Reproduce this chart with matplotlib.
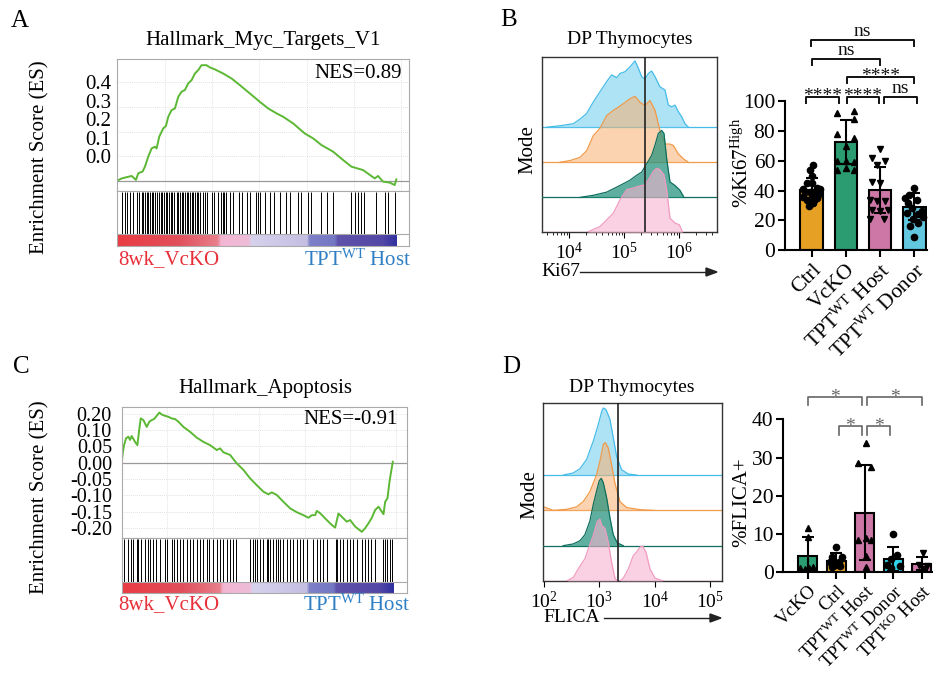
import numpy as np
import matplotlib
matplotlib.use("Agg")
import matplotlib.pyplot as plt
from matplotlib.colors import LinearSegmentedColormap
from matplotlib.ticker import NullFormatter

plt.rcParams['font.family'] = ['Liberation Serif', 'DejaVu Serif']
plt.rcParams['mathtext.fontset'] = 'custom'
plt.rcParams['mathtext.rm'] = 'Liberation Serif'
plt.rcParams['mathtext.it'] = 'Liberation Serif:italic'
plt.rcParams['mathtext.bf'] = 'Liberation Serif:bold'

# ---------------- data ----------------
# A: Hallmark_Myc_Targets_V1 running enrichment score
myc_rank = [0, 457, 985, 1512, 1969, 2215, 2672, 2918, 3270, 3621, 3973, 4149, 4430, 4852,
            5133, 5380, 5731, 6083, 6434, 6786, 7137, 7489, 7841, 8192, 8544, 8895, 9423,
            9774, 10302, 11181, 12060, 12939, 13994, 15048, 15927, 16806, 17510, 18564,
            19795, 20674, 21553, 22784, 23839, 24717, 25949, 27179, 27531, 28058, 28761,
            29288, 29464]
myc_es = [0.0, 0.009, 0.014, 0.019, 0.003, 0.030, 0.037, 0.057, 0.098, 0.131, 0.138, 0.131,
          0.179, 0.213, 0.222, 0.260, 0.287, 0.294, 0.341, 0.362, 0.369, 0.396, 0.409, 0.436,
          0.450, 0.470, 0.470, 0.461, 0.453, 0.436, 0.416, 0.389, 0.355, 0.321, 0.294, 0.274,
          0.260, 0.233, 0.192, 0.172, 0.145, 0.118, 0.084, 0.057, 0.043, 0.009, 0.019, -0.004,
          -0.008, -0.018, 0.005]
myc_hits = [457, 809, 1055, 1336, 1617, 2110, 2321, 2567, 2742, 2918, 3094, 3270, 3446, 3621,
            3797, 3973, 4219, 4395, 4571, 4747, 4922, 5098, 5274, 5450, 5626, 5801, 5977,
            6258, 6434, 6610, 6786, 6962, 7137, 7313, 7489, 7665, 7841, 8016, 8192, 8368,
            8544, 8720, 9001, 9247, 9423, 9950, 10196, 10654, 10900, 11111, 11287, 11462,
            11884, 12165, 12833, 13115, 13642, 13994, 14627, 14873, 15119, 15576, 16103,
            16525, 17158, 17791, 18213, 19092, 19444, 20147, 20428, 21553, 22151, 22784,
            24717, 25069, 25421, 25772, 26053, 27284, 28233, 28585, 29288]
myc_ytick_pos = [0.4, 0.325, 0.25, 0.175, 0.1]
myc_ytick_lab = ["0.4", "0.3", "0.2", "0.1", "0.0"]
myc_grid_y = [0.1, 0.2, 0.3, 0.4]

# C: Hallmark_Apoptosis running enrichment score
apo_rank = [0, 109, 255, 474, 729, 912, 1094, 1459, 1714, 1933, 2079, 2371, 2735, 3027, 3282,
            3538, 3829, 4121, 4376, 4741, 5106, 5471, 5835, 6200, 6747, 7476, 8206, 8935,
            9665, 10394, 10759, 11123, 11853, 12582, 13312, 14041, 14770, 15500, 16047,
            16412, 16959, 17688, 18417, 19147, 19876, 20423, 20788, 21153, 21335, 21700,
            22429, 22976, 23341, 23706, 24070, 24617, 24982, 25529, 26258, 26623, 26988,
            27353, 27717, 28082, 28629, 28811, 29067, 29285, 29431, 29650]
apo_es = [-0.002, 0.029, 0.054, 0.075, 0.080, 0.070, 0.082, 0.064, 0.054, 0.105, 0.136, 0.131,
          0.110, 0.126, 0.131, 0.134, 0.144, 0.154, 0.148, 0.144, 0.141, 0.136, 0.134, 0.126,
          0.110, 0.095, 0.077, 0.064, 0.054, 0.039, 0.044, 0.032, 0.024, -0.002, -0.022,
          -0.048, -0.069, -0.089, -0.097, -0.091, -0.099, -0.120, -0.140, -0.152, -0.161,
          -0.169, -0.161, -0.161, -0.148, -0.155, -0.176, -0.191, -0.199, -0.156, -0.166,
          -0.181, -0.176, -0.196, -0.212, -0.201, -0.186, -0.169, -0.145, -0.135, -0.158,
          -0.120, -0.109, -0.058, -0.033, 0.003]
apo_hits = [255, 729, 985, 1276, 1714, 1824, 2079, 2553, 2918, 3100, 3465, 3756, 4194, 4741,
            4996, 5471, 5726, 6018, 6382, 6747, 7112, 7476, 7841, 8206, 8570, 8935, 9300,
            9592, 10029, 10394, 10759, 11123, 11488, 11853, 12217, 12509, 14041, 14333,
            14588, 14843, 15135, 15500, 15864, 16047, 16229, 16594, 16886, 17141, 17323,
            17688, 18053, 18417, 18782, 19147, 19512, 19876, 20241, 20970, 21335, 21700,
            22064, 22429, 23450, 23596, 23888, 24252, 24617, 24982, 25347, 25711, 26258,
            26623, 26988, 27243, 27717, 28629, 28811, 29067, 29358, 29540]
apo_ytick_pos = [0.15, 0.10, 0.05, 0.0, -0.05, -0.10, -0.15, -0.20]
apo_ytick_lab = ["0.20", "0.10", "0.05", "0.00", "-0.05", "-0.10", "-0.15", "-0.20"]
apo_grid_y = [0.15, 0.10, 0.05, -0.05, -0.10, -0.15, -0.20]

rank_stops = [0.0, 0.22, 0.36, 0.37, 0.47, 0.48, 0.68, 0.69, 0.78, 0.79, 0.95, 1.0]
rank_colors = ['#ea3c44', '#e0505c', '#e8808c', '#f2b6d2', '#eebcd8', '#d6d2ec', '#c4bfe2',
               '#7e80c8', '#7478c2', '#5e52aa', '#5448a6', '#3232a0']

# B: Ki67 histograms (log10 intensity, height in stack units)
ki_blue_x = [3.588, 3.830, 4.073, 4.194, 4.315, 4.436, 4.558, 4.679, 4.770, 4.861, 4.921,
             5.012, 5.103, 5.194, 5.255, 5.315, 5.376, 5.436, 5.497, 5.558, 5.648, 5.739,
             5.800, 5.861, 5.921, 5.982, 6.042, 6.103, 6.164]
ki_blue_h = [0, 0.04, 0.10, 0.23, 0.39, 0.72, 1.01, 1.30, 1.49, 1.41, 1.53, 1.58, 1.72, 1.89,
             1.68, 1.44, 1.37, 1.53, 1.60, 1.44, 1.15, 1.06, 0.63, 0.58, 0.63, 0.44, 0.30,
             0.10, 0]
ki_orange_x = [3.830, 4.012, 4.194, 4.315, 4.436, 4.558, 4.679, 4.800, 4.891, 4.982, 5.103,
               5.194, 5.285, 5.376, 5.467, 5.558, 5.648, 5.739, 5.830, 5.891, 5.982, 6.073,
               6.164]
ki_orange_h = [0, 0.05, 0.14, 0.33, 0.76, 0.97, 1.33, 1.48, 1.57, 1.67, 1.81, 1.88, 1.71,
               1.62, 1.76, 1.48, 0.90, 0.52, 0.52, 0.48, 0.24, 0.10, 0]
ki_teal_x = [4.194, 4.436, 4.679, 4.921, 5.103, 5.224, 5.315, 5.406, 5.497, 5.558, 5.618,
             5.679, 5.721, 5.770, 5.830, 5.921, 6.012, 6.085]
ki_teal_h = [0, 0.06, 0.15, 0.34, 0.49, 0.63, 0.72, 0.96, 1.20, 1.49, 1.82, 1.91, 1.82,
             1.10, 0.44, 0.34, 0.20, 0]
ki_pink_x = [4.315, 4.558, 4.800, 4.921, 5.042, 5.164, 5.285, 5.376, 5.436, 5.527, 5.588,
             5.648, 5.721, 5.770, 5.830, 5.921, 6.000, 6.061]
ki_pink_h = [0, 0.17, 0.55, 0.93, 1.22, 1.27, 1.33, 1.36, 1.50, 1.74, 1.83, 1.79, 1.64,
             1.22, 0.41, 0.27, 0.22, 0]
ki_gate = 5.38

# D: FLICA histograms
fl_blue_x = [2.349, 2.530, 2.651, 2.771, 2.892, 2.982, 3.042, 3.072, 3.120, 3.193, 3.253,
             3.313, 3.404, 3.524, 3.675]
fl_blue_h = [0, 0.06, 0.18, 0.44, 0.96, 1.43, 1.79, 1.90, 1.86, 1.58, 1.06, 0.53, 0.15,
             0.03, 0]
fl_orange_x = [2.0, 2.169, 2.410, 2.590, 2.711, 2.831, 2.952, 3.024, 3.072, 3.108, 3.163,
               3.223, 3.283, 3.373, 3.494, 3.735, 3.976]
fl_orange_h = [0.1, 0, 0.03, 0.10, 0.25, 0.53, 1.01, 1.48, 1.87, 1.92, 1.77, 1.29, 0.77,
               0.25, 0.08, 0.02, 0]
fl_teal_x = [2.349, 2.530, 2.651, 2.741, 2.831, 2.892, 2.952, 3.000, 3.036, 3.072, 3.133,
             3.193, 3.253, 3.325, 3.434]
fl_teal_h = [0, 0.05, 0.14, 0.31, 0.70, 1.17, 1.55, 1.84, 1.91, 1.79, 1.36, 0.79, 0.31,
             0.08, 0]
fl_pink_x = [2.410, 2.530, 2.620, 2.681, 2.741, 2.801, 2.892, 2.964, 3.012, 3.042, 3.102,
             3.163, 3.223, 3.283, 3.325, 3.373, 3.434, 3.524, 3.614, 3.675, 3.735, 3.783,
             3.843, 3.916, 4.006, 4.157]
fl_pink_h = [0, 0.10, 0.34, 0.49, 0.63, 0.91, 1.29, 1.69, 1.75, 1.58, 1.49, 1.10, 0.53,
             0.08, 0, 0, 0.08, 0.34, 0.72, 0.82, 0.96, 0.99, 0.82, 0.34, 0.08, 0]
fl_gate = 3.34

hist_fill = ['#6ccbee', '#f8b070', '#20917c', '#f6b3cf']
hist_edge = ['#45bce8', '#f29a48', '#0f6e5e', '#f19bc0']
hist_alpha = [0.55, 0.55, 0.72, 0.6]

# B: %Ki67 high bar chart
ki_groups = ["Ctrl", "VcKO", r"TPT$^{\mathrm{WT}}$ Host", r"TPT$^{\mathrm{WT}}$ Donor"]
ki_mean = [40.3, 72.6, 40.6, 29.2]
ki_sd = [7.9, 14.8, 15.3, 8.9]
ki_ctrl = [57, 54, 50, 45, 45, 41, 42, 39, 39, 38, 38, 36, 36, 34, 35, 32, 30, 41]
ki_ctrl_dx = [0.05, -0.05, 0.0, -0.15, 0.0, -0.24, 0.15, -0.2, -0.05, 0.1, 0.2, -0.24, 0.0,
              -0.15, 0.15, 0.05, -0.07, 0.24]
ki_vcko = [92, 93, 88, 78, 75, 70, 60, 60, 59, 54, 55, 54]
ki_vcko_dx = [-0.27, 0.24, 0.24, -0.25, 0.24, 0.0, -0.25, 0.0, 0.25, -0.25, 0.0, 0.25]
ki_host = [68, 62, 60, 57, 46, 45, 34, 33, 33, 27, 26, 27, 21, 21]
ki_host_dx = [0.0, -0.24, 0.15, -0.1, -0.24, 0.0, -0.29, -0.1, 0.15, -0.24, 0.0, 0.24, -0.29,
              0.1]
ki_donor = [42, 37, 35, 34, 32, 28, 26, 25, 24, 21, 22, 16, 18, 9]
ki_donor_dx = [0.0, -0.15, -0.27, 0.07, -0.18, -0.08, 0.21, -0.22, 0.12, -0.03, 0.26, -0.13,
               0.12, 0.0]
ki_markers = ['o', '^', 'v', 'o']
ki_colors = ['#e6a024', '#2b9c71', '#cc77a6', '#62c8df']
ki_sig_x1 = [-0.02, 0.0, 1.02, -0.17, 1.02, 2.12]
ki_sig_x2 = [3.0, 2.0, 3.0, 0.81, 1.97, 3.07]
ki_sig_y = [140.7, 128.0, 116.0, 102.7, 102.7, 102.7]
ki_sig_txt = ['ns', 'ns', '****', '****', '****', 'ns']

# D: %FLICA+ bar chart
fl_groups = ["VcKO", "Ctrl", r"TPT$^{\mathrm{WT}}$ Host", r"TPT$^{\mathrm{WT}}$ Donor",
             r"TPT$^{\mathrm{KO}}$ Host"]
fl_mean = [4.35, 3.0, 15.6, 3.5, 2.2]
fl_sd = [4.75, 2.0, 12.5, 3.2, 1.7]
fl_vcko = [11.5, 9.2, 1.5, 1.2, 1.0, 0.8]
fl_vcko_dx = [0.0, 0.0, 0.2, -0.26, 0.03, -0.08]
fl_ctrl = [6.5, 4.1, 3.9, 2.8, 2.8, 1.9, 1.5, 1.6]
fl_ctrl_dx = [0.0, -0.15, 0.2, -0.21, 0.08, -0.04, -0.15, 0.14]
fl_host = [33.7, 28.7, 27.6, 8.9, 8.4, 8.4, 4.3, 1.5]
fl_host_dx = [0.04, -0.23, 0.23, 0.04, -0.23, 0.23, 0.04, 0.04]
fl_donor = [10.0, 4.5, 3.4, 1.9, 1.7, 1.0]
fl_donor_dx = [0.0, 0.12, -0.06, -0.23, 0.23, -0.06]
fl_ko = [5.0, 1.9, 1.7, 0.8]
fl_ko_dx = [0.04, -0.1, 0.19, 0.05]
fl_markers = ['^', 'o', '^', 'o', 'v']
fl_colors = ['#2b9c71', '#e6a024', '#cc77a6', '#2fd3ea', '#cc77a6']
fl_sig_x1 = [0.0, 2.09, 1.1, 2.09]
fl_sig_x2 = [1.89, 4.02, 1.89, 2.89]
fl_sig_y = [45.9, 45.9, 38.2, 38.2]
fl_sig_txt = ['*', '*', '*', '*']

# ---------------- figure ----------------
W, H = 933, 677
fig = plt.figure(figsize=(W / 100, H / 100), dpi=100)


def box(l, t, r, b):
    # pixel box -> figure fraction rect
    return [l / W, 1 - b / H, (r - l) / W, (b - t) / H]


def ftext(x, y, s, **kw):
    fig.text(x / W, 1 - y / H, s, **kw)


def arrow(x0, x1, y):
    fig.add_artist(plt.Line2D([x0 / W, (x1 - 9) / W], [1 - y / H, 1 - y / H],
                              color='#222222', lw=1))
    fig.patches.append(plt.Polygon([[(x1 - 11) / W, 1 - (y - 4) / H], [x1 / W, 1 - y / H],
                                    [(x1 - 11) / W, 1 - (y + 4) / H]], closed=True,
                                   color='#222222', transform=fig.transFigure, figure=fig))


def gsea(l, t, r, b_es, b_all, cb_h, xmax, n_genes, rank, es, hits, ylim,
         tpos, tlab, grid_y, pad, tfs):
    ax = fig.add_axes(box(l, t, r, b_es))
    for k in range(1, 7):
        ax.axvline(k * 5000, color='#d8d8d8', lw=0.6, ls=(0, (1, 1.5)))
    for g in grid_y:
        ax.axhline(g, color='#d8d8d8', lw=0.6, ls=(0, (1, 1.5)))
    ax.axhline(0, color='#999999', lw=0.9)
    ax.plot(rank, es, color='#5cb834', lw=1.4)
    ax.set_xlim(0, xmax)
    ax.set_ylim(*ylim)
    ax.set_xticks([])
    ax.set_yticks(tpos)
    ax.set_yticklabels(tlab)
    ax.tick_params(axis='y', length=0, labelsize=tfs, pad=pad)
    for s in ax.spines.values():
        s.set_color('#aaaaaa')
        s.set_linewidth(0.8)

    hx = fig.add_axes(box(l, b_es, r, b_all))
    frac = cb_h / (b_all - b_es)
    cmap = LinearSegmentedColormap.from_list('rk', list(zip(rank_stops, rank_colors)))
    hx.imshow(np.linspace(0, 1, 400)[None, :], extent=(0, n_genes, 0, frac),
              aspect='auto', cmap=cmap)
    hx.vlines(hits, frac, 0.985, color='black', lw=0.7)
    hx.axhline(frac, color='#aaaaaa', lw=0.8)
    hx.set_xlim(0, xmax)
    hx.set_ylim(0, 1)
    hx.set_xticks([])
    hx.set_yticks([])
    for s in hx.spines.values():
        s.set_color('#aaaaaa')
        s.set_linewidth(0.8)


def hist(l, t, r, b, xlim, ylim_top, curves, gate, ticks, ticklabs):
    ax = fig.add_axes(box(l, t, r, b))
    ax.set_xscale('log')
    for i, (lx, h) in enumerate(curves):
        base = 3 - i
        xs = 10 ** np.array(lx)
        ys = base + np.array(h)
        ax.axhline(base, color=hist_edge[i], lw=0.9, zorder=1 + i)
        ax.fill_between(xs, base, ys, color=hist_fill[i], alpha=hist_alpha[i], lw=0,
                        zorder=1 + i)
        ax.plot(xs, ys, color=hist_edge[i], lw=0.9, zorder=1 + i)
    ax.axvline(10 ** gate, color='#222222', lw=1.2, zorder=10)
    ax.set_xlim(10 ** xlim[0], 10 ** xlim[1])
    ax.set_ylim(0, ylim_top)
    ax.set_yticks([])
    ax.set_xticks(ticks)
    ax.set_xticklabels(ticklabs)
    ax.xaxis.set_minor_formatter(NullFormatter())
    ax.tick_params(axis='x', which='major', length=4, width=0.8, labelsize=14, pad=3)
    ax.tick_params(axis='x', which='minor', length=2, width=0.6)
    for s in ax.spines.values():
        s.set_color('#333333')
        s.set_linewidth(1.0)
    return ax


def bars(l, t, r, b, xlim, ylim, yticks, means, sds, pts, dxs, markers, colors, labels,
         ms, xfs):
    ax = fig.add_axes(box(l, t, r, b))
    x = np.arange(len(means))
    ax.bar(x, means, width=0.66, color=colors, edgecolor='black', lw=1.5, zorder=1)
    for i in range(len(means)):
        ax.plot(i + np.array(dxs[i]), pts[i], ls='none', marker=markers[i],
                color='black', ms=ms, zorder=3)
    ax.errorbar(x, means, yerr=sds, fmt='none', ecolor='black', elinewidth=1.5,
                capsize=4, capthick=1.5, zorder=4)
    ax.set_xlim(*xlim)
    ax.set_ylim(*ylim)
    ax.set_yticks(yticks)
    ax.set_xticks(x)
    ax.set_xticklabels(labels, rotation=45, ha='right', rotation_mode='anchor')
    ax.tick_params(axis='both', length=5, width=1.5, labelsize=15.5)
    ax.tick_params(axis='y', pad=2)
    ax.tick_params(axis='x', pad=2, labelsize=xfs)
    ax.spines['top'].set_visible(False)
    ax.spines['right'].set_visible(False)
    ax.spines['left'].set_linewidth(1.5)
    ax.spines['bottom'].set_linewidth(1.5)
    return ax


def brackets(ax, x1s, x2s, ys, txts, leg, gap_ns, gap_star, color, fs, lw):
    for x1, x2, y, s in zip(x1s, x2s, ys, txts):
        ax.plot([x1, x1, x2, x2], [y - leg, y, y, y - leg], color=color, lw=lw,
                clip_on=False)
        gap = gap_star if s.startswith('*') else gap_ns
        ax.text((x1 + x2) / 2, y + gap, s, ha='center', va='bottom', fontsize=fs,
                color=color, clip_on=False)


# ---- Panel A ----
gsea(117.3, 59.3, 409, 190.7, 246, 12, 30800, 29470, myc_rank, myc_es, myc_hits,
     (-0.041, 0.494), myc_ytick_pos, myc_ytick_lab, myc_grid_y, 4, 15)
ftext(263, 41, "Hallmark_Myc_Targets_V1", ha='center', va='center', fontsize=15)
ftext(402, 73, "NES=0.89", ha='right', va='center', fontsize=15)
ftext(40, 157, "Enrichment Score (ES)", ha='center', va='center', rotation=90, fontsize=15)
ftext(118, 260, "8wk_VcKO", ha='left', va='center', fontsize=15, color='#e8303a')
ftext(411, 260, r"TPT$^{\mathrm{WT}}$ Host", ha='right', va='center', fontsize=15,
      color='#2f7fc4')
ftext(20, 21, "A", ha='center', va='center', fontsize=18)

# ---- Panel C ----
gsea(121.7, 406.7, 407, 538.3, 592.7, 11, 31200, 29650, apo_rank, apo_es, apo_hits,
     (-0.232, 0.172), apo_ytick_pos, apo_ytick_lab, apo_grid_y, 7, 14.5)
ftext(265, 389, "Hallmark_Apoptosis", ha='center', va='center', fontsize=15)
ftext(398, 420, "NES=-0.91", ha='right', va='center', fontsize=15)
ftext(40, 497, "Enrichment Score (ES)", ha='center', va='center', rotation=90, fontsize=15)
ftext(118, 605, "8wk_VcKO", ha='left', va='center', fontsize=15, color='#e8303a')
ftext(410, 605, r"TPT$^{\mathrm{WT}}$ Host", ha='right', va='center', fontsize=15,
      color='#2f7fc4')
ftext(21, 367, "C", ha='center', va='center', fontsize=18)

# ---- Panel B ----
hist(541.7, 57, 717.3, 232.5, (3.498, 6.69), 5.0,
     [(ki_blue_x, ki_blue_h), (ki_orange_x, ki_orange_h), (ki_teal_x, ki_teal_h),
      (ki_pink_x, ki_pink_h)], ki_gate, [1e4, 1e5, 1e6],
     [r'$10^{4}$', r'$10^{5}$', r'$10^{6}$'])
ftext(630, 40, "DP Thymocytes", ha='center', va='center', fontsize=14)
ftext(528, 150, "Mode", ha='center', va='center', rotation=90, fontsize=15)
ftext(541.7, 272, "Ki67", ha='left', va='center', fontsize=14)
arrow(580, 717, 272)
ftext(509, 20, "B", ha='center', va='center', fontsize=18)

axb = bars(785, 101, 926.7, 250.3, (-0.78, 3.36), (0, 100), [0, 20, 40, 60, 80, 100],
           ki_mean, ki_sd, [ki_ctrl, ki_vcko, ki_host, ki_donor],
           [ki_ctrl_dx, ki_vcko_dx, ki_host_dx, ki_donor_dx], ki_markers, ki_colors,
           ki_groups, 4.5, 15.5)
brackets(axb, ki_sig_x1, ki_sig_x2, ki_sig_y, ki_sig_txt, 4, 0.3, -5.5, '#111111', 14, 1.4)
ftext(742, 163, r"%Ki67$^{\mathrm{High}}$", ha='center', va='center', rotation=90,
      fontsize=15)

# ---- Panel D ----
hist(543.3, 402.7, 721.7, 581, (1.99, 5.21), 5.05,
     [(fl_blue_x, fl_blue_h), (fl_orange_x, fl_orange_h), (fl_teal_x, fl_teal_h),
      (fl_pink_x, fl_pink_h)], fl_gate, [1e2, 1e3, 1e4, 1e5],
     [r'$10^{2}$', r'$10^{3}$', r'$10^{4}$', r'$10^{5}$'])
ftext(632, 388, "DP Thymocytes", ha='center', va='center', fontsize=14)
ftext(530, 495, "Mode", ha='center', va='center', rotation=90, fontsize=15)
ftext(543.3, 618, "FLICA", ha='left', va='center', fontsize=14)
arrow(604, 721, 618)
ftext(511, 367, "D", ha='center', va='center', fontsize=18)

axd = bars(783.3, 419.3, 933, 572.3, (-0.86, 4.40), (0, 40), [0, 10, 20, 30, 40],
           fl_mean, fl_sd, [fl_vcko, fl_ctrl, fl_host, fl_donor, fl_ko],
           [fl_vcko_dx, fl_ctrl_dx, fl_host_dx, fl_donor_dx, fl_ko_dx], fl_markers,
           fl_colors, fl_groups, 4.5, 13.5)
brackets(axd, fl_sig_x1, fl_sig_x2, fl_sig_y, fl_sig_txt, 2.2, 0, -2.3, '#666666', 14, 1.2)
ftext(742, 502, "%FLICA+", ha='center', va='center', rotation=90, fontsize=15)

fig.savefig("out.png", dpi=100)
